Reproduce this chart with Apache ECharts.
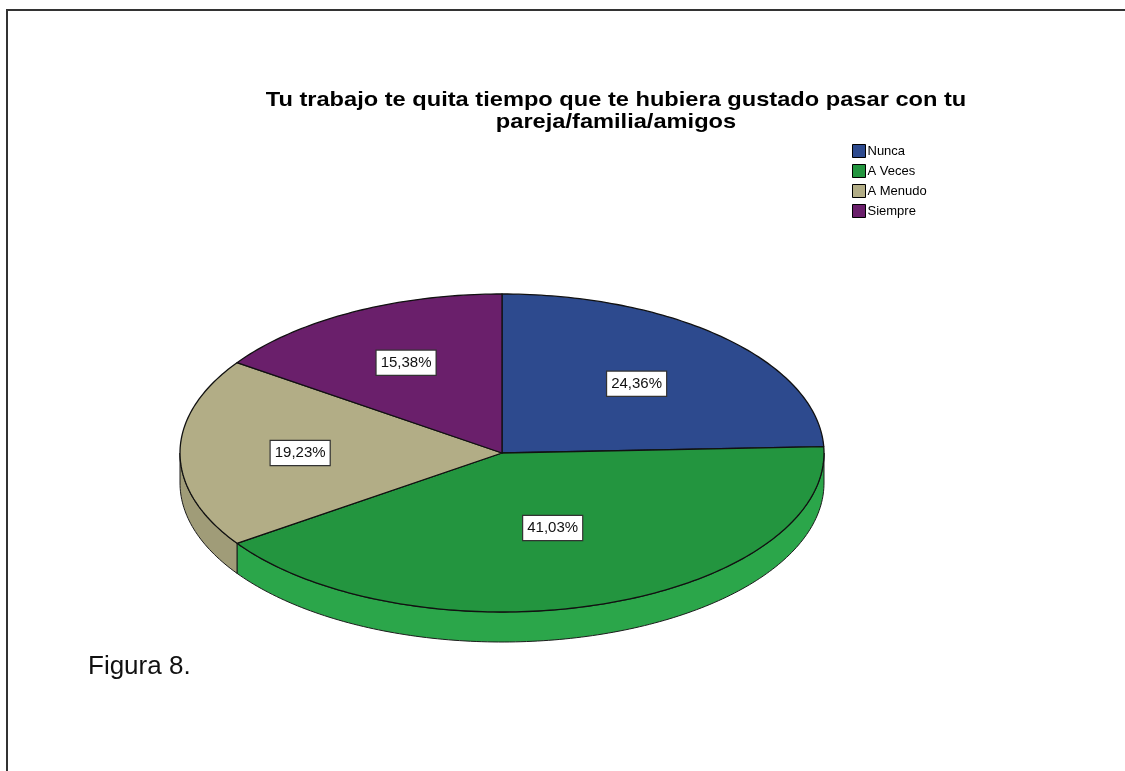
<!DOCTYPE html>
<html>
<head>
<meta charset="utf-8">
<script src="https://cdn.jsdelivr.net/npm/echarts@6/dist/echarts.min.js"></script>
<style>
  html, body { margin: 0; padding: 0; background: #fff; }
  #chart { width: 1125px; height: 771px; }
</style>
</head>
<body>
<div id="chart"></div>
<script>
// Survey answers (counts of respondents) and styling per answer
const categories = ['Nunca', 'A Veces', 'A Menudo', 'Siempre'];
const counts = [19, 32, 15, 12];
const topColors = ['#2D4A8E', '#23953F', '#B2AD86', '#6A1F6B'];
const sideColors = ['#243C75', '#2BA64A', '#A09C78', '#561857'];
const titleText = 'Tu trabajo te quita tiempo que te hubiera gustado pasar con tu\npareja/familia/amigos';
const captionText = 'Figura 8.';

const total = counts.reduce((a, b) => a + b, 0);

// Tilted pie geometry (ellipse centre, radii, rim thickness)
const CX = 502, CY = 453, RX = 322, RY = 159, DEPTH = 30;

function pt(deg, f, dy) {
  const r = deg * Math.PI / 180;
  return [CX + RX * f * Math.cos(r), CY - RY * f * Math.sin(r) + (dy || 0)];
}
function arc(a, b, dy) {
  const n = Math.max(2, Math.ceil(Math.abs(b - a)));
  const out = [];
  for (let i = 0; i <= n; i++) out.push(pt(a + (b - a) * i / n, 1, dy));
  return out;
}
function pctLabel(v) {
  return (v / total * 100).toFixed(2).replace('.', ',') + '%';
}

// One slice: visible rim wall + top face + value label at the sector centroid
function renderSlice(params, api) {
  const i = params.seriesIndex;
  const v = api.value(0);
  let before = 0;
  for (let k = 0; k < i; k++) before += counts[k];
  const start = 90 - before / total * 360;      // clockwise from 12 o'clock
  const end = start - v / total * 360;
  const children = [];
  for (let k = -1; k <= 1; k++) {
    const lo = Math.max(end, -180 + 360 * k);
    const hi = Math.min(start, 360 * k);
    if (hi > lo) {
      children.push({
        type: 'polygon',
        shape: { points: arc(lo, hi, 0).concat(arc(hi, lo, DEPTH)) },
        style: { fill: sideColors[i], stroke: '#1c1c1c', lineWidth: 1, lineJoin: 'round' }
      });
    }
  }
  children.push({
    type: 'polygon',
    shape: { points: [[CX, CY]].concat(arc(start, end, 0)) },
    style: { fill: topColors[i], stroke: '#111', lineWidth: 1.3, lineJoin: 'round' }
  });
  const half = (start - end) / 2 * Math.PI / 180;
  const f = 2 * Math.sin(half) / (3 * half);
  const lp = pt((start + end) / 2, f, 0);
  children.push({
    type: 'text',
    x: lp[0], y: lp[1],
    z2: 10,
    style: {
      text: pctLabel(v),
      fill: '#111',
      font: '15px "Liberation Sans", Arial, sans-serif',
      align: 'center',
      verticalAlign: 'middle',
      backgroundColor: '#fff',
      borderColor: '#333',
      borderWidth: 1.2,
      padding: [5, 4, 4, 4]
    }
  });
  return { type: 'group', children };
}

const chart = echarts.init(document.getElementById('chart'), null, { renderer: 'canvas' });
chart.setOption({
  backgroundColor: '#fff',
  animation: false,
  color: topColors,
  legend: {
    orient: 'vertical',
    left: 847,
    top: 139,
    icon: 'rect',
    itemWidth: 13,
    itemHeight: 13,
    itemGap: 6,
    itemStyle: { borderColor: '#000', borderWidth: 1 },
    textStyle: {
      fontFamily: '"Liberation Sans", Arial, sans-serif',
      fontSize: 13,
      lineHeight: 14,
      color: '#000',
      padding: [0, 0, 0, -3]
    },
    data: categories
  },
  graphic: [
    {
      type: 'rect',
      shape: { x: 7, y: 10, width: 1300, height: 900 },
      style: { fill: 'none', stroke: '#333', lineWidth: 2 },
      silent: true
    },
    {
      // chart title, set in a slightly widened bold face
      type: 'text',
      x: 616,
      y: 89,
      scaleX: 1.125,
      style: {
        text: titleText,
        fill: '#000',
        font: 'bold 21px "Liberation Sans", Arial, sans-serif',
        lineHeight: 22,
        align: 'center',
        verticalAlign: 'top'
      }
    },
    {
      type: 'text',
      left: 88,
      top: 654,
      style: {
        text: captionText,
        fill: '#111',
        font: '26px "Liberation Sans", Arial, sans-serif'
      }
    }
  ],
  series: categories.map((name, i) => ({
    type: 'custom',
    name: name,
    coordinateSystem: 'none',
    itemStyle: { color: topColors[i] },
    renderItem: renderSlice,
    data: [[counts[i]]]
  }))
});
</script>
</body>
</html>
